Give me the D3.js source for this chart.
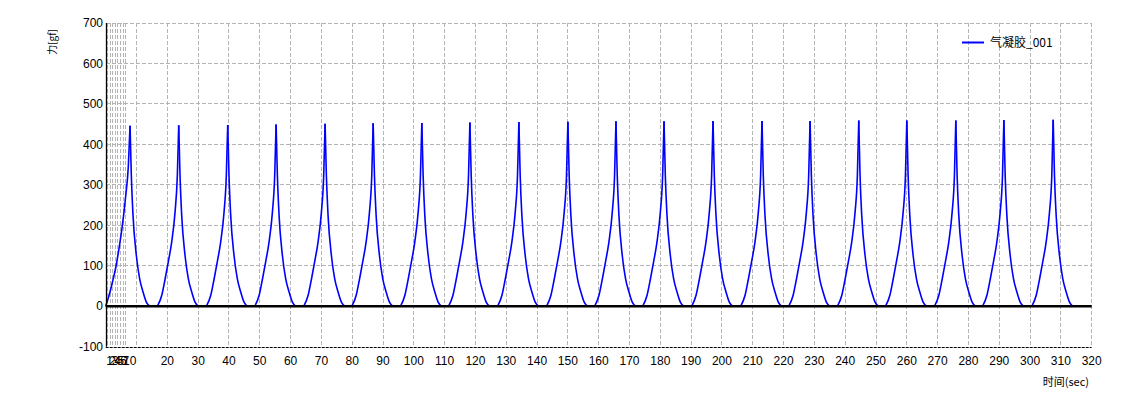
<!DOCTYPE html>
<html><head><meta charset="utf-8">
<script src="https://cdn.jsdelivr.net/npm/d3@7"></script>
<style>
html,body{margin:0;padding:0;background:#fff;}
text{font-family:"Liberation Sans",Arial,sans-serif;}
</style></head>
<body><svg id="c" width="1139" height="405"></svg>
<script>
// ---- data ----
const seriesName = "气凝胶_001";
const peakTimes  = [7.9, 23.7, 39.6, 55.3, 71.2, 86.8, 102.6, 118.2, 134.1, 150.0, 165.6, 181.2, 197.1, 213.0, 228.6, 244.4, 260.0, 275.9, 291.5, 307.5];
const peakValues = [446, 447, 448, 449, 451, 452, 453, 454, 455, 456, 457, 457, 458, 458, 458, 459, 459, 459, 460, 461];
// rise before each peak: offsets (s) relative to the peak, force (gf)
const riseOffsets  = [-6.9, -5.5, -4.4, -3.4, -2.3, -1.2, -0.45];
const riseValues   = [0, 27, 68, 109, 158, 232, 323];
// decay after each peak
const decayOffsets = [0.42, 0.97, 2.04, 3.11, 4.22, 5.29, 6.36];
const decayValues  = [323, 224, 126, 68, 35, 10, 0];
// first cycle starts at t = 0
const firstRiseTimes  = [0, 1.1, 2.2, 3.3, 4.3, 5.4, 6.5, 7.35];
const firstRiseValues = [0, 27, 60, 97, 142, 199, 273, 347];

const yTicks = [-100, 0, 100, 200, 300, 400, 500, 600, 700];
const xMajorTicks = [10,20,30,40,50,60,70,80,90,100,110,120,130,140,150,160,170,180,190,200,210,220,230,240,250,260,270,280,290,300,310,320];
const xDenseGrid = [0.5, 1.4, 2.2, 3.1, 3.9, 4.8, 5.7, 6.5];
const xSmallLabels = ["1","2","3","4","5","6","7","10"];
const xSmallLabelPos = [1.3, 2.2, 3.1, 3.9, 4.8, 5.7, 6.5, 7.8];
const xTitle = "时间(sec)";
const yTitle = "力[gf]";

// ---- chart ----
const svg = d3.select("#c");
const L = 105.7, R = 1091.7, T = 23, B = 346.7;
const x = d3.scaleLinear().domain([0, 320]).range([L, R]);
const y = d3.scaleLinear().domain([-100, 700]).range([B, T]);

const grid = svg.append("g").attr("shape-rendering","crispEdges");
// horizontal grid
grid.selectAll("line.hy").data(yTicks.filter(v => v > 0)).join("line")
  .attr("x1", L).attr("x2", R).attr("y1", d => y(d)).attr("y2", d => y(d))
  .attr("stroke", "#b4b4b4").attr("stroke-dasharray", "4,2");
// vertical grid
grid.selectAll("line.vx").data(xMajorTicks.concat(xDenseGrid)).join("line")
  .attr("x1", d => x(d)).attr("x2", d => x(d)).attr("y1", T).attr("y2", B)
  .attr("stroke", "#b4b4b4").attr("stroke-dasharray", "4,2");

// series
const line = d3.line().x(d => x(d[0])).y(d => y(d[1])).curve(d3.curveMonotoneX);
const segs = [];
peakTimes.forEach((pt, i) => {
  const pk = [pt, peakValues[i]];
  let rise;
  if (i === 0) rise = firstRiseTimes.map((t, j) => [t, firstRiseValues[j]]);
  else rise = riseOffsets.map((o, j) => [pt + o, riseValues[j]]);
  segs.push(rise.concat([pk]));
  segs.push([pk].concat(decayOffsets.map((o, j) => [pt + o, decayValues[j]])));
});
svg.append("g").selectAll("path").data(segs).join("path")
  .attr("d", line).attr("fill", "none").attr("stroke", "#0000ff").attr("stroke-width", 1.6)
  .attr("stroke-linejoin", "round");

// zero line, bottom dashed line, left axis
svg.append("line").attr("x1", L).attr("x2", R).attr("y1", y(0)).attr("y2", y(0))
  .attr("stroke", "#000").attr("stroke-width", 2.5);
svg.append("line").attr("x1", L).attr("x2", R).attr("y1", Math.round(B)+0.5).attr("y2", Math.round(B)+0.5)
  .attr("stroke", "#000").attr("stroke-width", 1).attr("stroke-dasharray", "3,1");
svg.append("line").attr("x1", Math.round(L)+0.5).attr("x2", Math.round(L)+0.5).attr("y1", T).attr("y2", B)
  .attr("stroke", "#000").attr("stroke-width", 1.3);

// y labels
svg.append("g").selectAll("text").data(yTicks).join("text")
  .attr("x", 103).attr("y", d => y(d)).attr("dy", "0.35em")
  .attr("text-anchor", "end").attr("font-size", 12).attr("fill", "#000").text(d => d);
// x labels
svg.append("g").selectAll("text").data(xMajorTicks.filter(v => v >= 20)).join("text")
  .attr("x", d => x(d)).attr("y", 361).attr("dy", "0.35em")
  .attr("text-anchor", "middle").attr("font-size", 12).attr("fill", "#000").text(d => d);
svg.append("g").selectAll("text").data(xSmallLabels).join("text")
  .attr("x", (d, i) => x(xSmallLabelPos[i])).attr("y", 361).attr("dy", "0.35em")
  .attr("text-anchor", "middle").attr("font-size", 12).attr("fill", "#000").text(d => d);

// titles
svg.append("text").attr("x", 1089).attr("y", 382).attr("dy", "0.35em")
  .attr("text-anchor", "end").attr("font-size", 11)
  .style("font-family", '"Noto Sans CJK SC","Liberation Sans",sans-serif').text(xTitle);
svg.append("text").attr("transform", "translate(52,42) rotate(-90)").attr("dy", "0.35em")
  .attr("text-anchor", "middle").attr("font-size", 10)
  .style("font-family", '"Noto Sans CJK SC","Liberation Sans",sans-serif').text(yTitle);

// legend
svg.append("line").attr("x1", 962).attr("x2", 984).attr("y1", 42.5).attr("y2", 42.5)
  .attr("stroke", "#0000ff").attr("stroke-width", 2);
svg.append("text").attr("x", 990).attr("y", 42.5).attr("dy", "0.35em")
  .attr("font-size", 12).style("font-family", '"Noto Sans CJK SC","Liberation Sans",sans-serif')
  .text(seriesName);
</script></body></html>
